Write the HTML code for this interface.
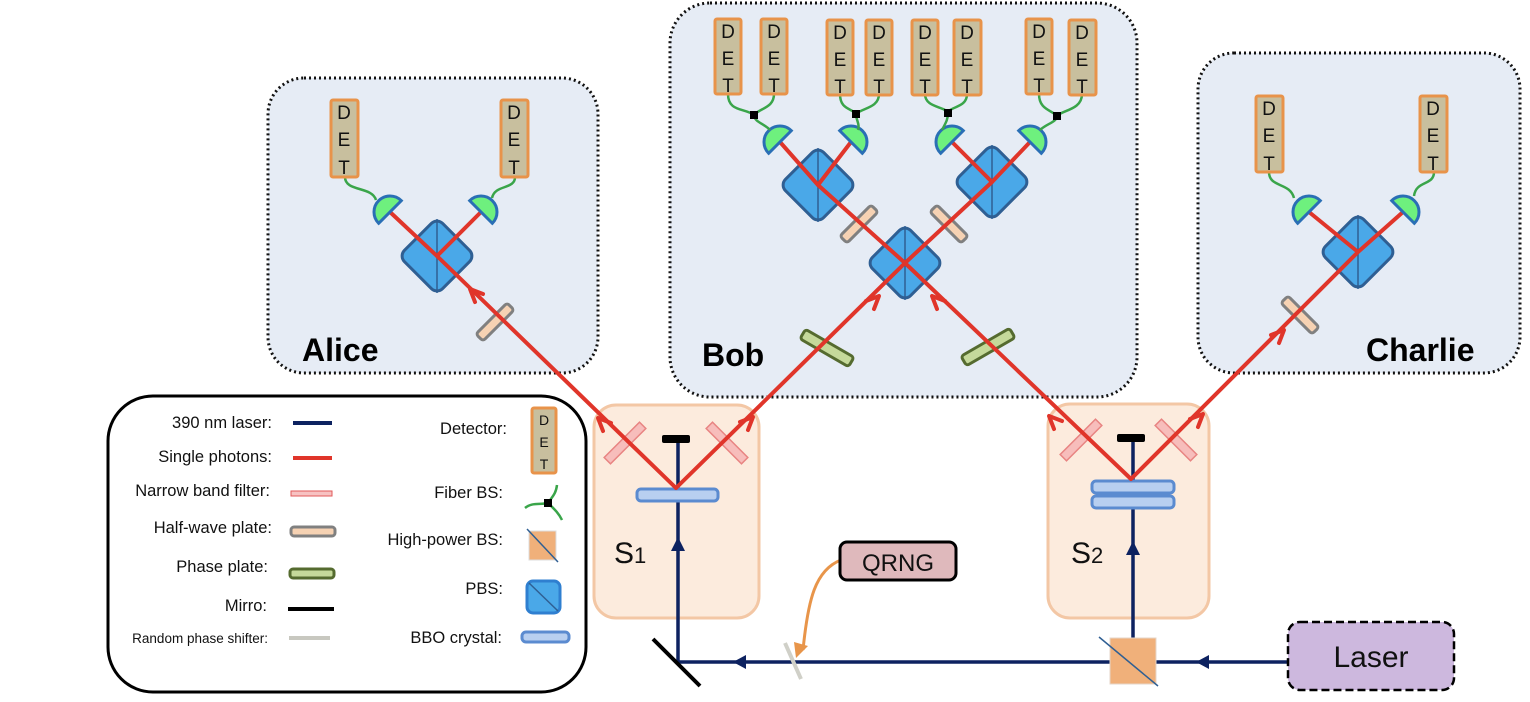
<!DOCTYPE html>
<html><head><meta charset="utf-8"><style>
html,body{margin:0;padding:0;background:#fff;width:1530px;height:702px;overflow:hidden}
svg{display:block;font-family:"Liberation Sans",sans-serif}
</style></head><body>
<svg width="1530" height="702" viewBox="0 0 1530 702" xmlns="http://www.w3.org/2000/svg">
<!-- party boxes -->
<rect x="268" y="78" width="330" height="295" rx="36" fill="#e6ecf5" stroke="#111" stroke-width="3" stroke-dasharray="2 3"/>
<rect x="670" y="3" width="467" height="394" rx="40" fill="#e6ecf5" stroke="#111" stroke-width="3" stroke-dasharray="2 3"/>
<rect x="1198" y="53" width="322" height="320" rx="36" fill="#e6ecf5" stroke="#111" stroke-width="3" stroke-dasharray="2 3"/>
<!-- source boxes -->
<rect x="594" y="405" width="165" height="213" rx="22" fill="#fcebdd" stroke="#f3c7a5" stroke-width="3"/>
<rect x="1048" y="404" width="161" height="214" rx="22" fill="#fcebdd" stroke="#f3c7a5" stroke-width="3"/>
<text x="614" y="563" font-size="30" fill="#111">S<tspan font-size="22">1</tspan></text>
<text x="1071" y="563" font-size="30" fill="#111">S<tspan font-size="22">2</tspan></text>

<!-- legend -->
<rect x="108" y="396" width="478" height="296" rx="45" fill="#fff" stroke="#000" stroke-width="3"/>
<g font-size="16.5" fill="#111" text-anchor="end">
<text x="272" y="428">390 nm laser:</text>
<text x="272" y="462">Single photons:</text>
<text x="270" y="496">Narrow band filter:</text>
<text x="272" y="533">Half-wave plate:</text>
<text x="268" y="572">Phase plate:</text>
<text x="267" y="611">Mirro:</text>
<text x="268" y="643" font-size="13.5">Random phase shifter:</text>
<text x="507" y="434">Detector:</text>
<text x="503" y="498">Fiber BS:</text>
<text x="503" y="545">High-power BS:</text>
<text x="503" y="594">PBS:</text>
<text x="502" y="643">BBO crystal:</text>
</g>
<line x1="293" y1="423" x2="332" y2="423" stroke="#0d2260" stroke-width="4"/>
<line x1="293" y1="458" x2="332" y2="458" stroke="#e0352a" stroke-width="4"/>
<rect x="291" y="491" width="41" height="5" fill="#f7c2c2" stroke="#e05a5a" stroke-width="1"/>
<rect x="291" y="527" width="44" height="9" rx="3" fill="#f6d2b3" stroke="#808080" stroke-width="3"/>
<rect x="290" y="569" width="44" height="9" rx="3" fill="#c5d99a" stroke="#556b2f" stroke-width="3"/>
<line x1="288" y1="609" x2="334" y2="609" stroke="#000" stroke-width="4"/>
<line x1="289" y1="638" x2="330" y2="638" stroke="#c8c8c0" stroke-width="4"/>
<rect x="532" y="408" width="24" height="65" rx="2" fill="#c8bf9e" stroke="#e8934a" stroke-width="3"/>
<g font-size="14" text-anchor="middle" fill="#111"><text x="544" y="425">D</text><text x="544" y="447">E</text><text x="544" y="469">T</text></g>
<path d="M525,508 C532,502 540,505 548,503 M548,503 C552,497 556,494 557,485 M548,503 C553,508 558,512 562,520" fill="none" stroke="#3aa54a" stroke-width="2.5"/>
<rect x="544" y="499" width="8" height="8" fill="#000"/>
<rect x="529" y="531" width="27" height="29" fill="#f0b07a" stroke="#ddd" stroke-width="1"/>
<line x1="527" y1="529" x2="558" y2="562" stroke="#2f5f93" stroke-width="1.5"/>
<rect x="527" y="581" width="33" height="32" rx="6" fill="#4aa8e8" stroke="#2f7fd0" stroke-width="3"/>
<line x1="529" y1="583" x2="558" y2="611" stroke="#2f5f93" stroke-width="1.5"/>
<rect x="522" y="632" width="47" height="10" rx="4" fill="#b8cff0" stroke="#5b8bd0" stroke-width="3"/>

<!-- laser path -->
<g stroke="#0d2260" stroke-width="3.5" fill="none">
<line x1="1288" y1="662" x2="678" y2="662"/>
<line x1="678" y1="662" x2="678" y2="440"/>
<line x1="1133" y1="662" x2="1133" y2="440"/>
</g>
<g fill="#0d2260">
<polygon points="678,537 671,551 685,551"/>
<polygon points="1133,541 1126,555 1140,555"/>
<polygon points="733,662 746,655 746,669"/>
<polygon points="1196,662 1209,655 1209,669"/>
</g>
<rect x="662" y="435" width="28" height="8" rx="2" fill="#000"/>
<rect x="1117" y="434" width="28" height="8" rx="2" fill="#000"/>
<line x1="653" y1="639" x2="700" y2="686" stroke="#000" stroke-width="4"/>
<line x1="785" y1="643" x2="801" y2="679" stroke="#d0d0c8" stroke-width="4"/>
<rect x="1110" y="638" width="46" height="46" fill="#f0b07a" stroke="#e6d6c8" stroke-width="1"/>
<line x1="1099" y1="637" x2="1158" y2="686" stroke="#2f5f93" stroke-width="1.5"/>
<!-- crystals -->
<rect x="637" y="489" width="81" height="12" rx="4" fill="#b8cff0" stroke="#5b8bd0" stroke-width="3"/>
<rect x="1092" y="481" width="82" height="12" rx="4" fill="#b8cff0" stroke="#5b8bd0" stroke-width="3"/>
<rect x="1092" y="496" width="82" height="12" rx="4" fill="#b8cff0" stroke="#5b8bd0" stroke-width="3"/>

<!-- QRNG -->
<path d="M841,560 C815,570 808,600 803,650" fill="none" stroke="#e8954a" stroke-width="3"/>
<polygon points="796,658 794,642 808,646" fill="#e8954a"/>
<rect x="840" y="542" width="116" height="38" rx="7" fill="#dfb9bc" stroke="#000" stroke-width="3"/>
<text x="898" y="571" font-size="24" text-anchor="middle" fill="#111">QRNG</text>
<!-- Laser -->
<rect x="1288" y="622" width="166" height="68" rx="12" fill="#cdb8de" stroke="#000" stroke-width="2.5" stroke-dasharray="8 4"/>
<text x="1371" y="667" font-size="30" text-anchor="middle" fill="#111">Laser</text>

<!-- PBS cubes -->
<g fill="#4aa8e8" stroke="#2f5f93" stroke-width="3">
<rect x="-27" y="-27" width="54" height="54" rx="8" transform="translate(437,256) rotate(45)"/>
<rect x="-27" y="-27" width="54" height="54" rx="8" transform="translate(1358,252) rotate(45)"/>
<rect x="-27" y="-27" width="54" height="54" rx="8" transform="translate(905,263) rotate(45)"/>
<rect x="-27" y="-27" width="54" height="54" rx="8" transform="translate(818,185) rotate(45)"/>
<rect x="-27" y="-27" width="54" height="54" rx="8" transform="translate(992,182) rotate(45)"/>
</g>
<g stroke="#2f5f93" stroke-width="1.5">
<line x1="437" y1="219" x2="437" y2="293"/>
<line x1="1358" y1="215" x2="1358" y2="289"/>
<line x1="905" y1="226" x2="905" y2="300"/>
<line x1="818" y1="148" x2="818" y2="222"/>
<line x1="992" y1="145" x2="992" y2="219"/>
</g>

<!-- plates -->
<g fill="#f6d2b3" stroke="#808080" stroke-width="3">
<rect x="-22" y="-5" width="44" height="10" rx="3" transform="translate(495,322) rotate(-45)"/>
<rect x="-22" y="-5" width="44" height="10" rx="3" transform="translate(859,224) rotate(-45)"/>
<rect x="-22" y="-5" width="44" height="10" rx="3" transform="translate(949,224) rotate(45)"/>
<rect x="-22" y="-5" width="44" height="10" rx="3" transform="translate(1300,315) rotate(45)"/>
</g>
<g fill="#c5d99a" stroke="#556b2f" stroke-width="3">
<rect x="-28" y="-5.5" width="56" height="11" rx="3" transform="translate(827,348) rotate(30)"/>
<rect x="-28" y="-5.5" width="56" height="11" rx="3" transform="translate(988,347) rotate(-30)"/>
</g>
<g fill="#f7b6b6" stroke="#e57373" stroke-width="1.5" opacity="0.85">
<rect x="-25" y="-4.5" width="50" height="9" transform="translate(625,443) rotate(-45)"/>
<rect x="-25" y="-4.5" width="50" height="9" transform="translate(727,443) rotate(45)"/>
<rect x="-25" y="-4.5" width="50" height="9" transform="translate(1081,440) rotate(-45)"/>
<rect x="-25" y="-4.5" width="50" height="9" transform="translate(1176,440) rotate(45)"/>
</g>

<!-- red beams -->
<g stroke="#e0352a" stroke-width="4" fill="none" stroke-linecap="round" stroke-linejoin="round">
<polyline points="676,488 437,256 390,212"/>
<line x1="437" y1="256" x2="481" y2="212"/>
<polyline points="676,488 905,263 992,182 1030,142"/>
<line x1="992" y1="182" x2="952" y2="142"/>
<polyline points="1131,479 905,263 818,185 780,142"/>
<line x1="818" y1="185" x2="851" y2="142"/>
<polyline points="1131,479 1358,252 1403,212"/>
<line x1="1358" y1="252" x2="1309" y2="212"/>
<!-- arrowheads: up-left tips T+(13,5),T,T+(5,13); up-right T+(-13,5),T,T+(-5,13) -->
<polyline points="483,294 470,289 475,302"/>
<polyline points="611,423 598,418 603,431"/>
<polyline points="740,422 753,417 748,430"/>
<polyline points="866,301 879,296 874,309"/>
<polyline points="945,301 932,296 937,309"/>
<polyline points="1062,421 1049,416 1054,429"/>
<polyline points="1190,419 1203,414 1198,427"/>
<polyline points="1271,335 1284,330 1279,343"/>
</g>

<!-- semicircle detectors -->
<g fill="#6ef07e" stroke="#2a6fb5" stroke-width="3">
<path d="M-16,0 A16,16 0 0 1 16,0 Z" transform="translate(390,212) rotate(-45)"/>
<path d="M-16,0 A16,16 0 0 1 16,0 Z" transform="translate(481,212) rotate(45)"/>
<path d="M-16,0 A16,16 0 0 1 16,0 Z" transform="translate(1309,212) rotate(-45)"/>
<path d="M-16,0 A16,16 0 0 1 16,0 Z" transform="translate(1403,212) rotate(45)"/>
<path d="M-16,0 A16,16 0 0 1 16,0 Z" transform="translate(780,142) rotate(-45)"/>
<path d="M-16,0 A16,16 0 0 1 16,0 Z" transform="translate(851,142) rotate(45)"/>
<path d="M-16,0 A16,16 0 0 1 16,0 Z" transform="translate(952,142) rotate(-45)"/>
<path d="M-16,0 A16,16 0 0 1 16,0 Z" transform="translate(1030,142) rotate(45)"/>
</g>

<!-- fibers -->
<g fill="none" stroke="#3aa54a" stroke-width="2.5">
<path d="M345,177 C345,192 372,186 376,200"/>
<path d="M515,177 C515,190 495,184 492,198"/>
<path d="M1269,172 C1269,188 1290,182 1294,198"/>
<path d="M1434,172 C1434,186 1416,180 1414,196"/>
<path d="M728,94 C728,112 745,108 754,115 M774,94 C774,108 760,108 754,115 M754,115 C754,122 765,124 770,130"/>
<path d="M840,94 C840,110 852,108 856,114 M879,94 C879,108 862,108 856,114 M856,114 C856,120 860,124 858,130"/>
<path d="M925,94 C925,108 945,106 948,113 M967,94 C967,108 950,106 948,113 M948,113 C948,120 945,124 942,130"/>
<path d="M1039,94 C1039,110 1052,110 1057,116 M1082,94 C1082,110 1062,110 1057,116 M1057,116 C1057,122 1046,124 1040,130"/>
</g>
<g fill="#000">
<rect x="750" y="111" width="8" height="8"/><rect x="852" y="110" width="8" height="8"/>
<rect x="944" y="109" width="8" height="8"/><rect x="1053" y="112" width="8" height="8"/>
</g>

<!-- DET boxes -->
<g fill="#c8bf9e" stroke="#e8934a" stroke-width="3">
<rect x="331" y="100" width="27" height="77" rx="2"/><rect x="501" y="100" width="27" height="77" rx="2"/>
<rect x="1256" y="96" width="27" height="76" rx="2"/><rect x="1420" y="96" width="27" height="76" rx="2"/>
<rect x="715" y="19" width="26" height="75" rx="2"/><rect x="761" y="19" width="26" height="75" rx="2"/>
<rect x="827" y="20" width="26" height="75" rx="2"/><rect x="866" y="20" width="26" height="75" rx="2"/>
<rect x="912" y="20" width="26" height="75" rx="2"/><rect x="954" y="20" width="27" height="75" rx="2"/>
<rect x="1026" y="19" width="26" height="75" rx="2"/><rect x="1069" y="20" width="27" height="75" rx="2"/>
</g>
<g font-size="19" fill="#111" text-anchor="middle">
<text x="344" y="119">D</text><text x="344" y="146">E</text><text x="344" y="174">T</text>
<text x="514" y="119">D</text><text x="514" y="146">E</text><text x="514" y="174">T</text>
<text x="1269" y="115">D</text><text x="1269" y="142">E</text><text x="1269" y="170">T</text>
<text x="1433" y="115">D</text><text x="1433" y="142">E</text><text x="1433" y="170">T</text>
<text x="728" y="38">D</text><text x="728" y="65">E</text><text x="728" y="92">T</text>
<text x="774" y="38">D</text><text x="774" y="65">E</text><text x="774" y="92">T</text>
<text x="840" y="39">D</text><text x="840" y="66">E</text><text x="840" y="93">T</text>
<text x="879" y="39">D</text><text x="879" y="66">E</text><text x="879" y="93">T</text>
<text x="925" y="39">D</text><text x="925" y="66">E</text><text x="925" y="93">T</text>
<text x="967" y="39">D</text><text x="967" y="66">E</text><text x="967" y="93">T</text>
<text x="1039" y="38">D</text><text x="1039" y="65">E</text><text x="1039" y="92">T</text>
<text x="1082" y="39">D</text><text x="1082" y="66">E</text><text x="1082" y="93">T</text>
</g>

<!-- names -->
<g font-size="32" font-weight="bold" fill="#000">
<text x="302" y="361">Alice</text>
<text x="702" y="366">Bob</text>
<text x="1366" y="361">Charlie</text>
</g>
</svg>
</body></html>
